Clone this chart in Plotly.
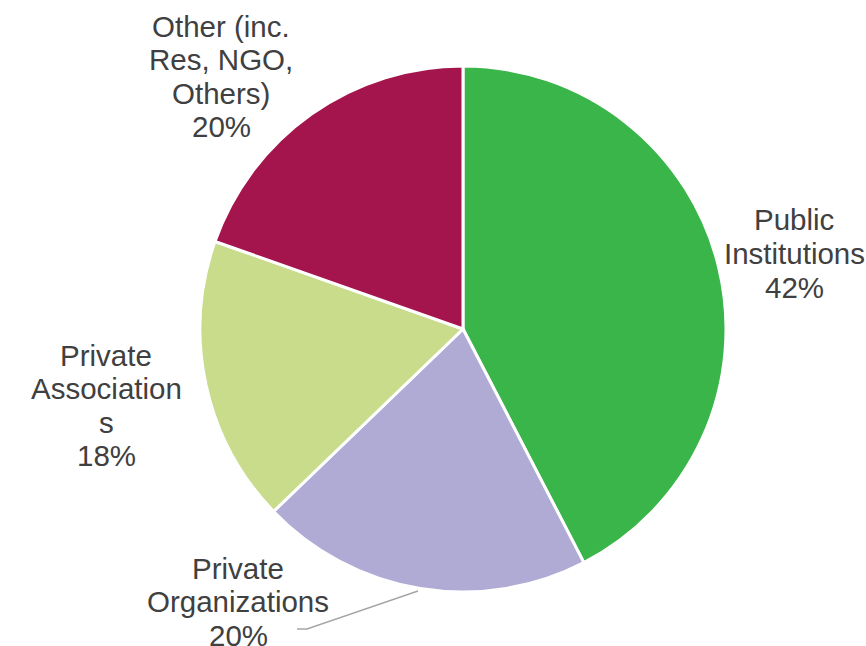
import plotly.graph_objects as go

labels = ["Public Institutions", "Private Organizations", "Private Associations", "Other (inc. Res, NGO, Others)"]
values = [42.4, 20.4, 17.6, 19.6]
colors = ["#3AB54A", "#B0ABD5", "#C8DC8B", "#A4154D"]
label_lines = [
    ["Public", "Institutions"],
    ["Private", "Organizations"],
    ["Private", "Association", "s"],
    ["Other (inc.", "Res, NGO,", "Others)"],
]
W, H = 866, 646
label_pos = [(794, 220), (238, 568), (106, 355), (221, 26)]
LINE = 33.5

def px(x):
    return x / W

def py(y):
    return 1 - y / H

fig = go.Figure()
cx, cy, r = 463, 329, 263
fig.add_trace(go.Pie(
    labels=labels, values=values, sort=False, direction="clockwise", rotation=0,
    marker=dict(colors=colors, line=dict(color="white", width=3)),
    textinfo="none", hoverinfo="label+percent", showlegend=False,
    domain=dict(x=[px(cx - r), px(cx + r)], y=[py(cy + r), py(cy - r)]),
))

total = sum(values)
anns = []
for lines, v, (lx, ly) in zip(label_lines, values, label_pos):
    all_lines = lines + [f"{round(100 * v / total)}%"]
    for i, t in enumerate(all_lines):
        anns.append(dict(
            x=px(lx), y=py(ly + i * LINE), xref="paper", yref="paper",
            text=t, showarrow=False, xanchor="center", yanchor="middle",
            font=dict(family="Liberation Sans, Arial", size=29.5, color="#404040"),
        ))

fig.update_layout(
    width=W, height=H, margin=dict(l=0, r=0, t=0, b=0),
    paper_bgcolor="white", plot_bgcolor="white",
    annotations=anns,
    shapes=[dict(type="path", xref="paper", yref="paper",
                 path=f"M {px(418)},{py(591)} L {px(307)},{py(629)} L {px(297)},{py(629)}",
                 line=dict(color="#A6A6A6", width=1.5))],
)
fig.write_html("out.html", config={"displayModeBar": False},
               post_script="document.body.style.margin='0';document.body.style.overflow='hidden';")
